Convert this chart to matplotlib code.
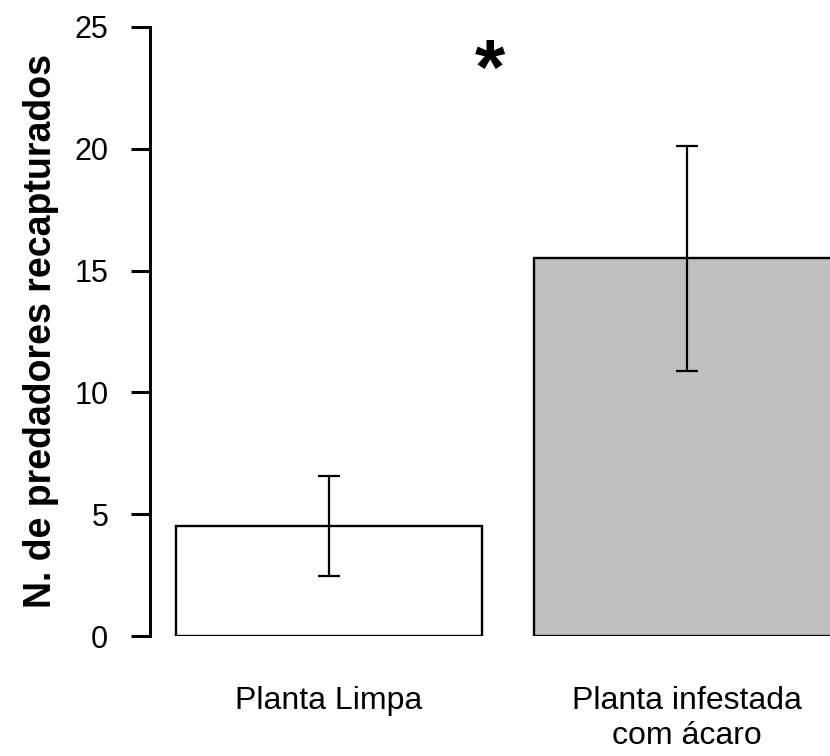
import matplotlib.pyplot as plt
import numpy as np

plt.rcParams['font.family'] = ['Liberation Sans', 'DejaVu Sans']

# Mean number of recaptured predators per treatment
tratamentos = ["Planta Limpa", "Planta infestada\ncom ácaro"]
medias = [4.5, 15.5]
erros = [2.05, 4.62]
cores = ['white', '#bfbfbf']

fig = plt.figure(figsize=(8.3, 7.56), dpi=100)
ax = fig.add_axes([150 / 830, 1 - 636 / 756, 1 - 150 / 830, 609 / 756])

x = np.arange(1, len(tratamentos) + 1)
ax.bar(x, medias, width=0.857, color=cores, edgecolor='black', linewidth=1.7,
       yerr=erros, error_kw=dict(ecolor='black', elinewidth=1.6, capsize=8, capthick=1.6))

# significance mark
ax.text(1.45, 23.1, '*', fontsize=56, fontweight='bold', ha='center', va='center')

ax.set_xlim(0.5, 0.5 + 680 / 358)
ax.set_ylim(0, 25)
ax.set_yticks([0, 5, 10, 15, 20, 25])
ax.set_xticks(x)
ax.set_xticklabels(tratamentos, fontsize=23, linespacing=1.2)
ax.tick_params(axis='x', length=0, pad=36)
ax.tick_params(axis='y', labelsize=22, length=14, width=2.2, pad=16)

for side in ['top', 'right', 'bottom']:
    ax.spines[side].set_visible(False)
ax.spines['left'].set_linewidth(2.2)

ax.set_ylabel('N. de predadores recapturados', fontsize=27, fontweight='bold', labelpad=11)

fig.savefig('out.png', dpi=100)
